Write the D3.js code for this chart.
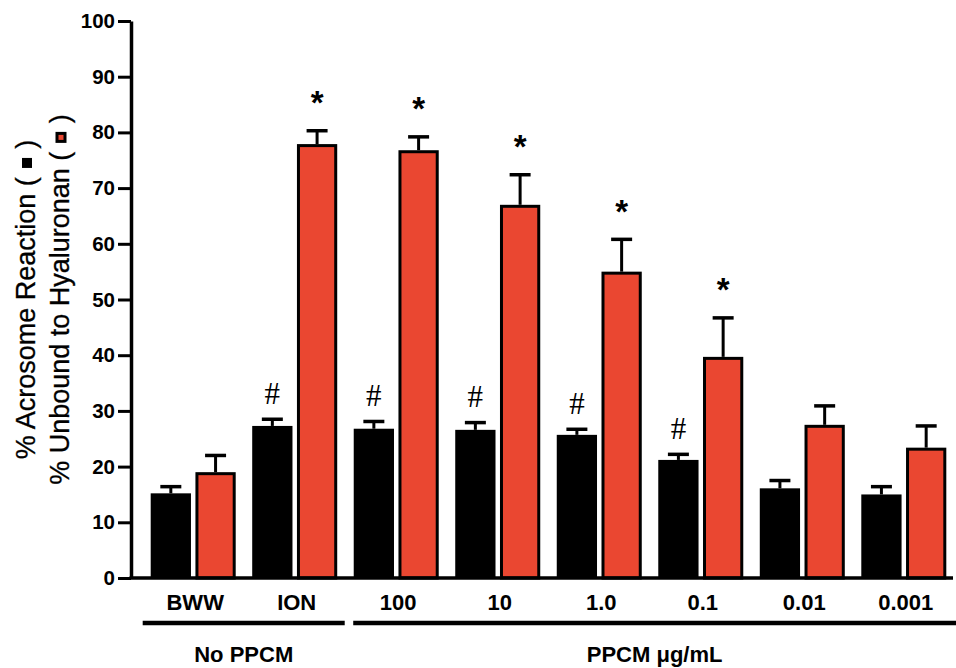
<!DOCTYPE html>
<html>
<head>
<meta charset="utf-8">
<script src="https://cdn.jsdelivr.net/npm/d3@7/dist/d3.min.js"></script>
<style>
  html, body { margin: 0; padding: 0; background: #ffffff; }
  svg { display: block; }
</style>
</head>
<body>
<svg id="chart" width="956" height="668"></svg>
<script>
// ---------------- DATA ----------------
const categories   = ["BWW", "ION", "100", "10", "1.0", "0.1", "0.01", "0.001"];
const seriesKeys   = ["acrosome", "unbound"];
const acrosome     = [15.2, 27.3, 26.8, 26.6, 25.7, 21.2, 16.1, 15.0];
const acrosomeErr  = [1.2, 1.2, 1.3, 1.3, 1.0, 1.0, 1.4, 1.4];
const unbound      = [19.0, 77.9, 76.8, 67.0, 55.0, 39.7, 27.5, 23.4];
const unboundErr   = [3.0, 2.4, 2.4, 5.4, 5.8, 7.0, 3.4, 3.9];
const hashMarks    = [false, true, true, true, true, true, false, false];
const starMarks    = [false, true, true, true, true, true, false, false];
const yTicks       = [0, 10, 20, 30, 40, 50, 60, 70, 80, 90, 100];
const groupLabels  = ["No PPCM", "PPCM \u03BCg/mL"];
const groupFirst   = ["BWW", "100"];
const groupLast    = ["ION", "0.001"];
const titleLine1   = "% Acrosome Reaction";
const titleLine2   = "% Unbound to Hyaluronan";

// ---------------- SETUP ----------------
const RED = "#EA4731";
const svg = d3.select("#chart");
const axisX = 131, axisEndX = 953, yTop = 21, yBottom = 578;

const y = d3.scaleLinear().domain([0, 100]).range([yBottom, yTop]);
const x = d3.scaleBand().domain(categories).range([axisX, 966])
  .paddingInner(0.1626).paddingOuter(0.194);
const xs = d3.scaleBand().domain(seriesKeys).range([0, x.bandwidth()]).paddingInner(0.1);

const rows = categories.map((c, i) => ({
  cat: c,
  acrosome: acrosome[i], acrosomeErr: acrosomeErr[i],
  unbound: unbound[i], unboundErr: unboundErr[i],
  hash: hashMarks[i], star: starMarks[i]
}));

// ---------------- BARS ----------------
const g = svg.append("g");
const groupsSel = g.selectAll("g.grp").data(rows).enter().append("g")
  .attr("class", "grp")
  .attr("transform", d => `translate(${x(d.cat)},0)`);

// black bars (acrosome)
groupsSel.append("rect")
  .attr("x", xs("acrosome"))
  .attr("y", d => y(d.acrosome))
  .attr("width", xs.bandwidth())
  .attr("height", d => y(0) - y(d.acrosome))
  .attr("fill", "#000");

// red bars (unbound) with black outline
const sw = 3;
groupsSel.append("rect")
  .attr("x", xs("unbound") + sw / 2)
  .attr("y", d => y(d.unbound) + sw / 2)
  .attr("width", xs.bandwidth() - sw)
  .attr("height", d => y(0) - y(d.unbound) - sw / 2)
  .attr("fill", RED)
  .attr("stroke", "#000")
  .attr("stroke-width", sw);

// error bars
function errBar(sel, key, errKey) {
  const cx = xs(key) + xs.bandwidth() / 2;
  sel.append("line")
    .attr("x1", cx).attr("x2", cx)
    .attr("y1", d => y(d[key]))
    .attr("y2", d => y(d[key] + d[errKey]))
    .attr("stroke", "#000").attr("stroke-width", 3);
  sel.append("line")
    .attr("x1", cx - 10.5).attr("x2", cx + 10.5)
    .attr("y1", d => y(d[key] + d[errKey]))
    .attr("y2", d => y(d[key] + d[errKey]))
    .attr("stroke", "#000").attr("stroke-width", 3.5);
}
errBar(groupsSel, "acrosome", "acrosomeErr");
errBar(groupsSel, "unbound", "unboundErr");

// significance marks
groupsSel.filter(d => d.hash).append("text")
  .attr("x", xs("acrosome") + xs.bandwidth() / 2)
  .attr("y", d => y(d.acrosome + d.acrosomeErr) - 15.5)
  .attr("text-anchor", "middle")
  .attr("font-family", "'Liberation Serif', 'Times New Roman', serif")
  .attr("font-size", 31)
  .attr("fill", "#000")
  .text("#");

groupsSel.filter(d => d.star).append("text")
  .attr("x", xs("unbound") + xs.bandwidth() / 2)
  .attr("y", d => y(d.unbound + d.unboundErr) - 16.5)
  .attr("text-anchor", "middle")
  .attr("font-family", "'Liberation Sans', Arial, sans-serif")
  .attr("font-weight", "bold")
  .attr("font-size", 33)
  .attr("fill", "#000")
  .text("*");

// ---------------- AXES ----------------
const yAxis = d3.axisLeft(y).tickValues(yTicks).tickSize(13).tickSizeOuter(0).tickPadding(3);
const yg = svg.append("g").attr("transform", `translate(${axisX},0)`).call(yAxis);
yg.select(".domain").attr("stroke", "#000").attr("stroke-width", 3.5);
yg.selectAll(".tick line").attr("stroke", "#000").attr("stroke-width", 3);
yg.selectAll(".tick text")
  .attr("font-family", "'Liberation Sans', Arial, sans-serif")
  .attr("font-weight", "bold")
  .attr("font-size", 20.5)
  .attr("fill", "#000");

// x axis line
svg.append("line")
  .attr("x1", axisX - 1.5).attr("x2", axisEndX)
  .attr("y1", y(0)).attr("y2", y(0))
  .attr("stroke", "#000").attr("stroke-width", 3.5);

// category labels
svg.append("g").selectAll("text").data(categories).enter().append("text")
  .attr("x", d => x(d) + x.bandwidth() / 2 + 2)
  .attr("y", 610)
  .attr("text-anchor", "middle")
  .attr("font-family", "'Liberation Sans', Arial, sans-serif")
  .attr("font-weight", "bold")
  .attr("font-size", 22)
  .attr("fill", "#000")
  .text(d => d);

// group lines & labels
const grpData = groupLabels.map((l, i) => ({
  label: l,
  x1: i === 0 ? x(groupFirst[i]) - 8 : x(groupFirst[i]) - 0.5,
  x2: i === 0 ? x(groupLast[i]) + x.bandwidth() + 7.5 : 956
}));
const gg = svg.append("g");
gg.selectAll("line").data(grpData).enter().append("line")
  .attr("x1", d => d.x1).attr("x2", d => d.x2)
  .attr("y1", 623).attr("y2", 623)
  .attr("stroke", "#000").attr("stroke-width", 4.5);
gg.selectAll("text").data(grpData).enter().append("text")
  .attr("x", d => (d.x1 + d.x2) / 2)
  .attr("y", 662)
  .attr("text-anchor", "middle")
  .attr("font-family", "'Liberation Sans', Arial, sans-serif")
  .attr("font-weight", "bold")
  .attr("font-size", 22)
  .attr("fill", "#000")
  .text(d => d.label);

// ---------------- Y TITLE ----------------
const midY = (yTop + yBottom) / 2;
function titleLine(txt, baseX, fill, sq) {
  const tg = svg.append("g").attr("transform", `translate(${baseX},${midY}) rotate(-90)`);
  const full = txt + " ( \u2002 )";
  const t = tg.append("text")
    .attr("x", 0).attr("y", 0)
    .attr("text-anchor", "middle")
    .attr("font-family", "'Liberation Sans', Arial, sans-serif")
    .attr("font-size", 27)
    .attr("fill", "#000")
    .attr("stroke", "#000")
    .attr("stroke-width", 0.3)
    .text(full);
  const idx = full.indexOf("\u2002");
  const node = t.node();
  const p0 = node.getStartPositionOfChar(idx);
  const p1 = node.getEndPositionOfChar(idx);
  const cx = (p0.x + p1.x) / 2;
  const cy = -8;
  if (fill === "#000") {
    tg.append("rect").attr("x", cx - sq / 2).attr("y", cy - sq / 2)
      .attr("width", sq).attr("height", sq).attr("fill", "#000");
  } else {
    tg.append("rect").attr("x", cx - sq / 2 + 1.5).attr("y", cy - sq / 2 + 1.5)
      .attr("width", sq - 3).attr("height", sq - 3)
      .attr("fill", fill).attr("stroke", "#000").attr("stroke-width", 3);
  }
}
titleLine(titleLine1, 35, "#000", 10);
titleLine(titleLine2, 69, RED, 11);
</script>
</body>
</html>
